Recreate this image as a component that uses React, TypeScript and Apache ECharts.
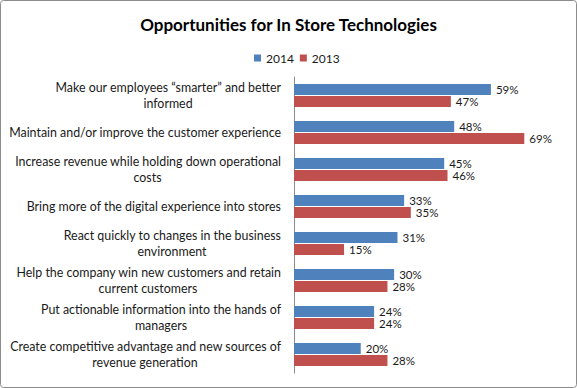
import React, { useEffect, useRef } from "react";
import * as echarts from "echarts";

const title = "Opportunities for In Store Technologies";
const seriesNames = ["2014", "2013"];
const categories = [
  "Make our employees “smarter” and better\ninformed",
  "Maintain and/or improve the customer experience",
  "Increase revenue while holding down operational\ncosts",
  "Bring more of the digital experience into stores",
  "React quickly to changes in the business\nenvironment",
  "Help the company win new customers and retain\ncurrent customers",
  "Put actionable information into the hands of\nmanagers",
  "Create competitive advantage and new sources of\nrevenue generation",
];
const values2014 = [59, 48, 45, 33, 31, 30, 24, 20];
const values2013 = [47, 69, 46, 35, 15, 28, 24, 28];

const FONT = "Lato, 'Open Sans', sans-serif";
const LABEL_SIZE = 12.4;

function measure(text: string): number {
  const c = document.createElement("canvas");
  const ctx = c.getContext("2d");
  if (!ctx) return text.length * 6;
  ctx.font = `${LABEL_SIZE}px Lato`;
  return Math.ceil(ctx.measureText(text).width);
}

export default function App() {
  const ref = useRef<HTMLDivElement>(null);
  useEffect(() => {
    document.body.style.margin = "0";
    if (!ref.current) return;
    const chart = echarts.init(ref.current, null, { renderer: "svg" });

    const rich: Record<string, any> = {
      a: { fontSize: LABEL_SIZE, fontFamily: FONT, color: "#1a1a1a", lineHeight: 16 },
    };
    categories.forEach((c, i) => {
      const lines = c.split("\n");
      if (lines.length > 1) {
        rich["c" + i] = {
          width: measure(lines[0]),
          align: "center",
          fontSize: LABEL_SIZE,
          fontFamily: FONT,
          color: "#1a1a1a",
          lineHeight: 16,
        };
      }
    });

    const valueLabel = {
      show: true,
      position: "right",
      distance: 5,
      formatter: "{c}%",
      fontSize: 11.5,
      lineHeight: 11.5,
      fontFamily: FONT,
      color: "#1a1a1a",
    };

    chart.setOption({
      animation: false,
      backgroundColor: "#fff",
      title: {
        text: title,
        left: "center",
        top: 11,
        textStyle: { fontSize: 17, fontWeight: "bold", fontFamily: FONT, color: "#000" },
      },
      legend: {
        data: seriesNames,
        top: 47,
        left: 249,
        itemWidth: 7,
        itemHeight: 7,
        itemGap: 6,
        icon: "rect",
        textStyle: { fontSize: 12, fontFamily: FONT, color: "#1a1a1a" },
      },
      graphic: [
        {
          type: "rect",
          shape: { x: 0.5, y: 0.5, width: 576, height: 387, r: 3 },
          style: { fill: "none", stroke: "#8c8c8c", lineWidth: 1 },
          silent: true,
        },
      ],
      grid: { left: 294, right: 16, top: 77, bottom: 388 - 373, containLabel: false },
      xAxis: {
        type: "value",
        min: 0,
        max: 80,
        show: false,
      },
      yAxis: {
        type: "category",
        inverse: true,
        data: categories,
        axisLine: { show: true, lineStyle: { color: "#8c8c8c", width: 1 } },
        axisTick: { show: false },
        axisLabel: {
          margin: 13,
          align: "right",
          formatter: (v: string, i: number) => {
            const lines = v.split("\n");
            if (lines.length > 1) return `{a|${lines[0]}}\n{c${i}|${lines[1]}}`;
            return `{a|${lines[0]}}`;
          },
          rich,
        },
      },
      series: [
        {
          name: seriesNames[0],
          type: "bar",
          data: values2014,
          barWidth: 11,
          barGap: "10%",
          itemStyle: { color: "#4F81BD" },
          label: valueLabel,
        },
        {
          name: seriesNames[1],
          type: "bar",
          data: values2013,
          barWidth: 11,
          barGap: "10%",
          itemStyle: { color: "#C0504D" },
          label: valueLabel,
        },
      ],
    });
    return () => chart.dispose();
  }, []);
  return (
    <div
      ref={ref}
      style={{ position: "fixed", left: 0, top: 0, width: 577, height: 388 }}
    />
  );
}
